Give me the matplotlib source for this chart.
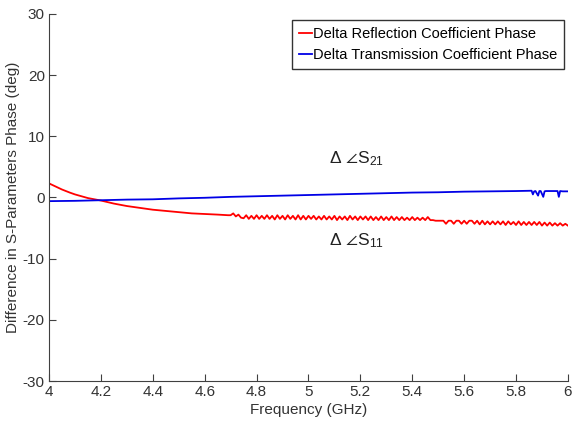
import numpy as np
import matplotlib.pyplot as plt

### Data.
# Delta reflection coefficient phase (red), smooth part.
red_freq_smooth = [4.00, 4.02, 4.05, 4.08, 4.10, 4.15, 4.20, 4.25, 4.30, 4.35, 4.40,
                   4.45, 4.50, 4.55, 4.60, 4.65, 4.69]
red_val_smooth = [2.3, 1.9, 1.3, 0.8, 0.5, -0.1, -0.5, -1.0, -1.4, -1.7, -2.0,
                  -2.2, -2.4, -2.6, -2.7, -2.8, -2.9]

# Noisy part 4.70 - 5.48 GHz (0.01 GHz steps).
red_val_noisy1 = [-2.9, -2.6, -3.1, -2.8, -3.3, -3.4, -2.9, -3.5, -3.0, -3.5,
                  -2.9, -3.5, -3.0, -3.5, -2.9, -3.5, -3.0, -3.6, -2.9, -3.5,
                  -3.0, -3.6, -2.9, -3.5, -3.0, -3.6, -2.9, -3.6, -3.0, -3.6,
                  -3.0, -3.5, -3.0, -3.6, -3.1, -3.6, -3.0, -3.6, -3.1, -3.6,
                  -3.0, -3.7, -3.1, -3.6, -3.1, -3.7, -3.0, -3.6, -3.1, -3.7,
                  -3.1, -3.6, -3.1, -3.7, -3.1, -3.7, -3.2, -3.7, -3.1, -3.7,
                  -3.2, -3.7, -3.1, -3.7, -3.2, -3.7, -3.2, -3.7, -3.3, -3.7,
                  -3.2, -3.7, -3.3, -3.7, -3.3, -3.7, -3.2, -3.7, -3.7]
# Flat part 5.49 - 5.51 GHz.
red_val_flat = [-3.8, -3.8, -3.8]
# Noisy part 5.52 - 6.00 GHz.
red_val_noisy2 = [-3.8, -4.3, -3.8, -3.8, -4.3, -3.8, -3.8, -4.3, -3.8, -4.3,
                  -3.8, -3.8, -4.3, -3.8, -4.4, -3.8, -4.4, -3.9, -4.4, -3.9,
                  -4.4, -3.9, -4.4, -3.9, -4.5, -3.9, -4.4, -4.0, -4.5, -3.9,
                  -4.5, -4.0, -4.5, -4.0, -4.5, -4.0, -4.5, -4.0, -4.6, -4.1,
                  -4.6, -4.1, -4.6, -4.2, -4.6, -4.2, -4.6, -4.3, -4.6]

# Delta transmission coefficient phase (blue).
blue_freq = [4.00, 4.10, 4.20, 4.30, 4.40, 4.50, 4.60, 4.70, 4.80, 4.90, 5.00, 5.10,
             5.20, 5.30, 5.40, 5.50, 5.60, 5.70, 5.80, 5.86, 5.865, 5.87, 5.875,
             5.885, 5.89, 5.895, 5.905, 5.91, 5.915, 5.93, 5.96, 5.965, 5.97, 5.98, 6.00]
blue_val = [-0.6, -0.55, -0.45, -0.35, -0.3, -0.15, -0.05, 0.1, 0.2, 0.3, 0.4, 0.5,
            0.6, 0.7, 0.8, 0.85, 0.95, 1.0, 1.05, 1.1, 0.5, 1.0, 1.05, 0.3, 1.05,
            1.05, 0.1, 1.0, 1.05, 1.05, 1.05, 0.1, 1.05, 1.0, 1.0]

legend_labels = ["Delta Reflection Coefficient Phase", "Delta Transmission Coefficient Phase"]

plt.rcParams['font.family'] = ['Liberation Sans', 'DejaVu Sans']
plt.rcParams['axes.unicode_minus'] = False
plt.rcParams['mathtext.fontset'] = 'custom'
plt.rcParams['mathtext.rm'] = 'Liberation Sans'
plt.rcParams['mathtext.it'] = 'Liberation Sans'

red_freq_noisy1 = np.round(np.arange(len(red_val_noisy1)) * 0.01 + 4.70, 3)
red_freq_flat = [5.49, 5.50, 5.51]
red_freq_noisy2 = np.round(np.arange(len(red_val_noisy2)) * 0.01 + 5.52, 3)

red_freq = list(red_freq_smooth) + list(red_freq_noisy1) + red_freq_flat + list(red_freq_noisy2)
red_val = red_val_smooth + red_val_noisy1 + red_val_flat + red_val_noisy2

fig = plt.figure(figsize=(5.74, 4.34), dpi=100)
ax = fig.add_axes([0.0854, 0.122, 0.904, 0.846])

ax.plot(red_freq, red_val, color="#ff0000", lw=1.3, label=legend_labels[0])
ax.plot(blue_freq, blue_val, color="#0000e6", lw=1.3, label=legend_labels[1])

ax.set_xlim(4, 6)
ax.set_ylim(-30, 30)
ax.set_xticks(np.round(np.arange(4, 6.01, 0.2), 1))
ax.set_xticklabels(["4", "4.2", "4.4", "4.6", "4.8", "5", "5.2", "5.4", "5.6", "5.8", "6"])
ax.set_yticks([-30, -20, -10, 0, 10, 20, 30])

for side in ["top", "right"]:
    ax.spines[side].set_visible(False)
for side in ["left", "bottom"]:
    ax.spines[side].set_color("#404040")
ax.tick_params(direction="in", length=5, color="#404040", labelsize=11, labelcolor="#333333", pad=3)

ax.set_xlabel("Frequency (GHz)", fontsize=11, color="#333333", labelpad=3)
ax.set_ylabel("Difference in S-Parameters Phase (deg)", fontsize=11, color="#333333", labelpad=2)

ax.text(5.08, 5.6, r"$\Delta\ \angle\mathregular{S}_{21}$", fontsize=12.5, color="#222222")
ax.text(5.08, -7.8, r"$\Delta\ \angle\mathregular{S}_{11}$", fontsize=12.5, color="#222222")

leg = ax.legend(loc="upper right", bbox_to_anchor=(0.998, 0.99), fontsize=10.5, handlelength=0.9,
                handletextpad=0.1, borderpad=0.45, labelspacing=0.5, borderaxespad=0.2,
                fancybox=False, edgecolor="#333333", framealpha=1)
leg.get_frame().set_linewidth(1.0)

fig.savefig("out.png", dpi=100)
